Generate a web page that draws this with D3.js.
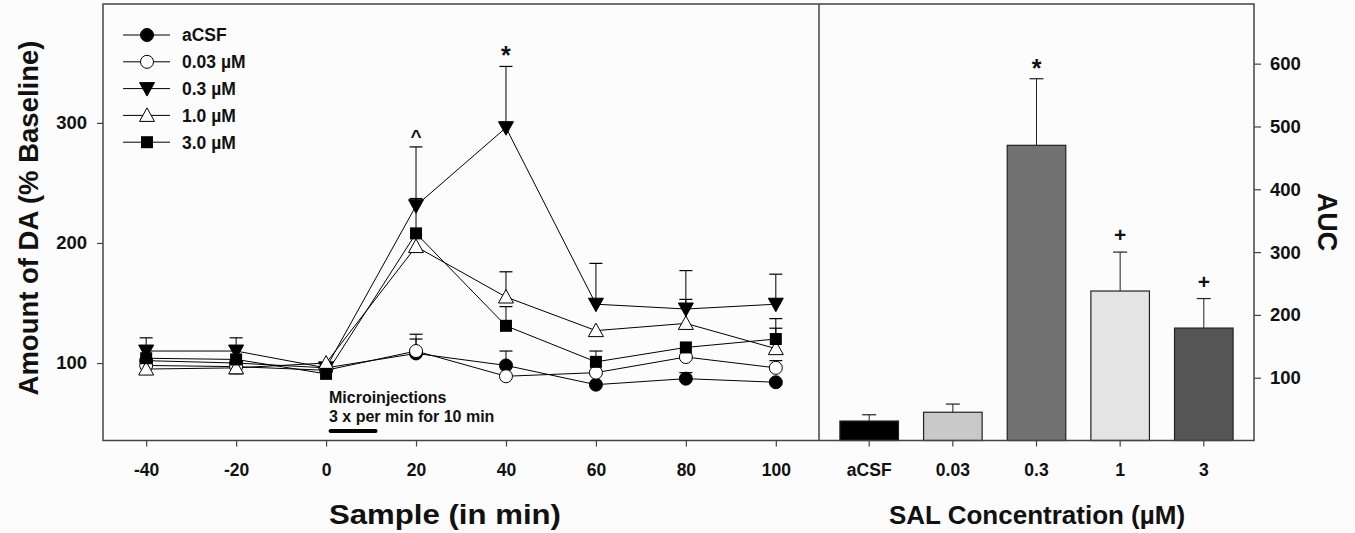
<!DOCTYPE html>
<html lang="en">
<head>
<meta charset="UTF-8">
<title>DA microdialysis and AUC</title>
<script src="https://d3js.org/d3.v7.min.js"></script>
<style>
  html, body { margin: 0; padding: 0; background: #fcfcfc; }
  svg { display: block; font-family: "Liberation Sans", Arial, sans-serif; font-weight: bold; }
</style>
</head>
<body>
<svg width="1355" height="533"></svg>
<script>
// --- data: time course (% baseline) ---
const times = [-40, -20, 0, 20, 40, 60, 80, 100];
const seriesNames = ["aCSF", "0.03 \u00b5M", "0.3 \u00b5M", "1.0 \u00b5M", "3.0 \u00b5M"];
const valAcsf = [102, 100, 96, 108, 98, 82, 87, 84];
const val003  = [98, 97, 94, 110, 89, 92, 105, 96];
const val03   = [110, 110, 96, 231, 296, 149, 145, 149];
const val10   = [95, 96, 100, 197, 155, 127, 133, 112];
const val30   = [104, 103, 91, 208, 131, 101, 113, 120];
// error bar ends (null = none drawn)
const errAcsf = [null, null, null, 120, 110, null, 92, null];
const err003  = [null, null, null, 124, null, null, null, 102];
const err03   = [121, 121, null, 280, 347, 183, 177, 174];
const err10   = [91, 91, null, null, 176, null, 153, 129];
const err30   = [null, null, null, 237, 147, 110, null, 137];
const markers = ["circleFill", "circleOpen", "triDown", "triUp", "square"];

// --- data: AUC bars ---
const concCats = ["aCSF", "0.03", "0.3", "1", "3"];
const aucVals = [31, 45, 470, 238, 179];
const aucErr  = [41, 58, 576, 300, 226];
const aucFill = ["#000000", "#c9c9c9", "#727272", "#e4e4e4", "#555555"];
const aucMarks = [null, null, "*", "+", "+"];

const svg = d3.select("svg");
const frame = "#444";

// layout
const L = 103, M = 819, R = 1254, T = 4, B = 440.5;

// ---------- left panel ----------
const x = d3.scaleLinear().domain([-49.6, 109.6]).range([L, M]);
const y = d3.scaleLinear().domain([35.5, 399]).range([B, T]);

const series = [valAcsf, val003, val03, val10, val30].map((v, i) => ({
  name: seriesNames[i], mark: markers[i],
  pts: times.map((t, j) => ({ t, v: v[j], e: [errAcsf, err003, err03, err10, err30][i][j] }))
}));

function drawMarker(g, kind, cx, cy) {
  if (kind === "circleFill" || kind === "circleOpen") {
    g.append("circle").attr("cx", cx).attr("cy", cy).attr("r", 6.5)
      .attr("fill", kind === "circleFill" ? "#000" : "#fff").attr("stroke", "#000").attr("stroke-width", 1);
  } else if (kind === "square") {
    g.append("rect").attr("x", cx - 6).attr("y", cy - 6).attr("width", 12).attr("height", 12)
      .attr("fill", "#000");
  } else {
    const up = kind === "triUp";
    const s = 7.5;
    const pts = up
      ? [[cx, cy - s], [cx + s, cy + s * 0.8], [cx - s, cy + s * 0.8]]
      : [[cx, cy + s], [cx + s, cy - s * 0.8], [cx - s, cy - s * 0.8]];
    g.append("path").attr("d", "M" + pts.join("L") + "Z")
      .attr("fill", up ? "#fff" : "#000").attr("stroke", "#000").attr("stroke-width", 1);
  }
}

const line = d3.line().x(d => x(d.t)).y(d => y(d.v));
const gl = svg.append("g");
series.forEach(s => {
  gl.append("path").attr("d", line(s.pts)).attr("fill", "none").attr("stroke", "#000").attr("stroke-width", 1);
});
series.forEach(s => {
  s.pts.filter(p => p.e != null).forEach(p => {
    gl.append("line").attr("x1", x(p.t)).attr("x2", x(p.t)).attr("y1", y(p.v)).attr("y2", y(p.e))
      .attr("stroke", "#000").attr("stroke-width", 1);
    gl.append("line").attr("x1", x(p.t) - 6.5).attr("x2", x(p.t) + 6.5).attr("y1", y(p.e)).attr("y2", y(p.e))
      .attr("stroke", "#000").attr("stroke-width", 1.2);
  });
});
series.forEach(s => s.pts.forEach(p => drawMarker(gl, s.mark, x(p.t), y(p.v))));

// axes left
const axL = svg.append("g").attr("transform", `translate(${L},0)`)
  .call(d3.axisLeft(y).tickValues([100, 200, 300]).tickSize(6).tickPadding(10));
const axB = svg.append("g").attr("transform", `translate(0,${B})`)
  .call(d3.axisBottom(x).tickValues(times).tickFormat(d => String(d)).tickSize(6).tickPadding(17));
[axL, axB].forEach(a => {
  a.select(".domain").remove();
  a.selectAll("line").attr("stroke", frame).attr("stroke-width", 1.2);
  a.selectAll("text").attr("font-size", 18.5).attr("font-family", "Liberation Sans, Arial").attr("font-weight", "bold").attr("fill", "#111");
});
axB.selectAll("text").attr("font-size", 17.5);

// legend
const leg = svg.append("g");
series.forEach((s, i) => {
  const ly = 35 + i * 26.8;
  leg.append("line").attr("x1", 123).attr("x2", 170).attr("y1", ly).attr("y2", ly).attr("stroke", "#000").attr("stroke-width", 1);
  drawMarker(leg, s.mark, 147, ly);
  leg.append("text").attr("x", 182).attr("y", ly).attr("dy", "0.36em").attr("font-size", 17.5).attr("fill", "#111").text(s.name);
});

// annotations left
svg.append("text").attr("x", x(40)).attr("y", y(347) - 2).attr("text-anchor", "middle").attr("font-size", 25).attr("fill", "#111").text("*");
svg.append("text").attr("x", x(20)).attr("y", y(280) - 4).attr("text-anchor", "middle").attr("font-size", 19).attr("fill", "#111").text("^");

// microinjection note
svg.append("text").attr("x", 329).attr("y", 403).attr("font-size", 16).attr("fill", "#111").text("Microinjections");
svg.append("text").attr("x", 329).attr("y", 422).attr("font-size", 16).attr("fill", "#111").text("3 x per min for 10 min");
svg.append("line").attr("x1", x(1)).attr("x2", x(11)).attr("y1", 431).attr("y2", 431)
  .attr("stroke", "#000").attr("stroke-width", 4).attr("stroke-linecap", "round");

// ---------- right panel ----------
const xb = d3.scaleBand().domain(concCats).range([M, R]).paddingInner(0.3).paddingOuter(0.25);
const yb = d3.scaleLinear().domain([0, 695]).range([B, T]);

const gb = svg.append("g");
concCats.forEach((c, i) => {
  const cx = xb(c) + xb.bandwidth() / 2;
  gb.append("line").attr("x1", cx).attr("x2", cx).attr("y1", yb(aucVals[i])).attr("y2", yb(aucErr[i]))
    .attr("stroke", "#222").attr("stroke-width", 1);
  gb.append("line").attr("x1", cx - 7).attr("x2", cx + 7).attr("y1", yb(aucErr[i])).attr("y2", yb(aucErr[i]))
    .attr("stroke", "#222").attr("stroke-width", 1.2);
  gb.append("rect").attr("x", xb(c)).attr("width", xb.bandwidth())
    .attr("y", yb(aucVals[i])).attr("height", yb(0) - yb(aucVals[i]))
    .attr("fill", aucFill[i]).attr("stroke", "#222").attr("stroke-width", 1.2);
  if (aucMarks[i]) {
    gb.append("text").attr("x", cx).attr("y", yb(aucErr[i]) - (aucMarks[i] === "*" ? 2 : 10))
      .attr("text-anchor", "middle").attr("font-size", aucMarks[i] === "*" ? 25 : 21)
      .attr("fill", "#111").text(aucMarks[i]);
  }
});

const axR = svg.append("g").attr("transform", `translate(${R},0)`)
  .call(d3.axisRight(yb).tickValues([100, 200, 300, 400, 500, 600]).tickSize(7).tickPadding(9));
const axB2 = svg.append("g").attr("transform", `translate(0,${B})`)
  .call(d3.axisBottom(xb).tickSize(6).tickPadding(17));
[axR, axB2].forEach(a => {
  a.select(".domain").remove();
  a.selectAll("line").attr("stroke", frame).attr("stroke-width", 1.2);
  a.selectAll("text").attr("font-size", 18.5).attr("font-family", "Liberation Sans, Arial").attr("font-weight", "bold").attr("fill", "#111");
});
axB2.selectAll("text").attr("font-size", 17.5);

// frame
svg.append("rect").attr("x", L).attr("y", T).attr("width", R - L).attr("height", B - T)
  .attr("fill", "none").attr("stroke", frame).attr("stroke-width", 1.5);
svg.append("line").attr("x1", M).attr("x2", M).attr("y1", T).attr("y2", B).attr("stroke", frame).attr("stroke-width", 1.5);

// titles
svg.append("text").attr("transform", "translate(38,218) rotate(-90)").attr("text-anchor", "middle")
  .attr("font-size", 27.5).attr("fill", "#111").text("Amount of DA (% Baseline)");
svg.append("text").attr("transform", "translate(1318,222) rotate(90)").attr("text-anchor", "middle")
  .attr("font-size", 27).attr("fill", "#111").text("AUC");
svg.append("text").attr("x", 445).attr("y", 524).attr("text-anchor", "middle")
  .attr("font-size", 27).attr("textLength", 232).attr("lengthAdjust", "spacingAndGlyphs")
  .attr("fill", "#111").text("Sample (in min)");
svg.append("text").attr("x", 1037).attr("y", 524).attr("text-anchor", "middle")
  .attr("font-size", 26).attr("fill", "#111").text("SAL Concentration (\u00b5M)");
</script>
</body>
</html>
